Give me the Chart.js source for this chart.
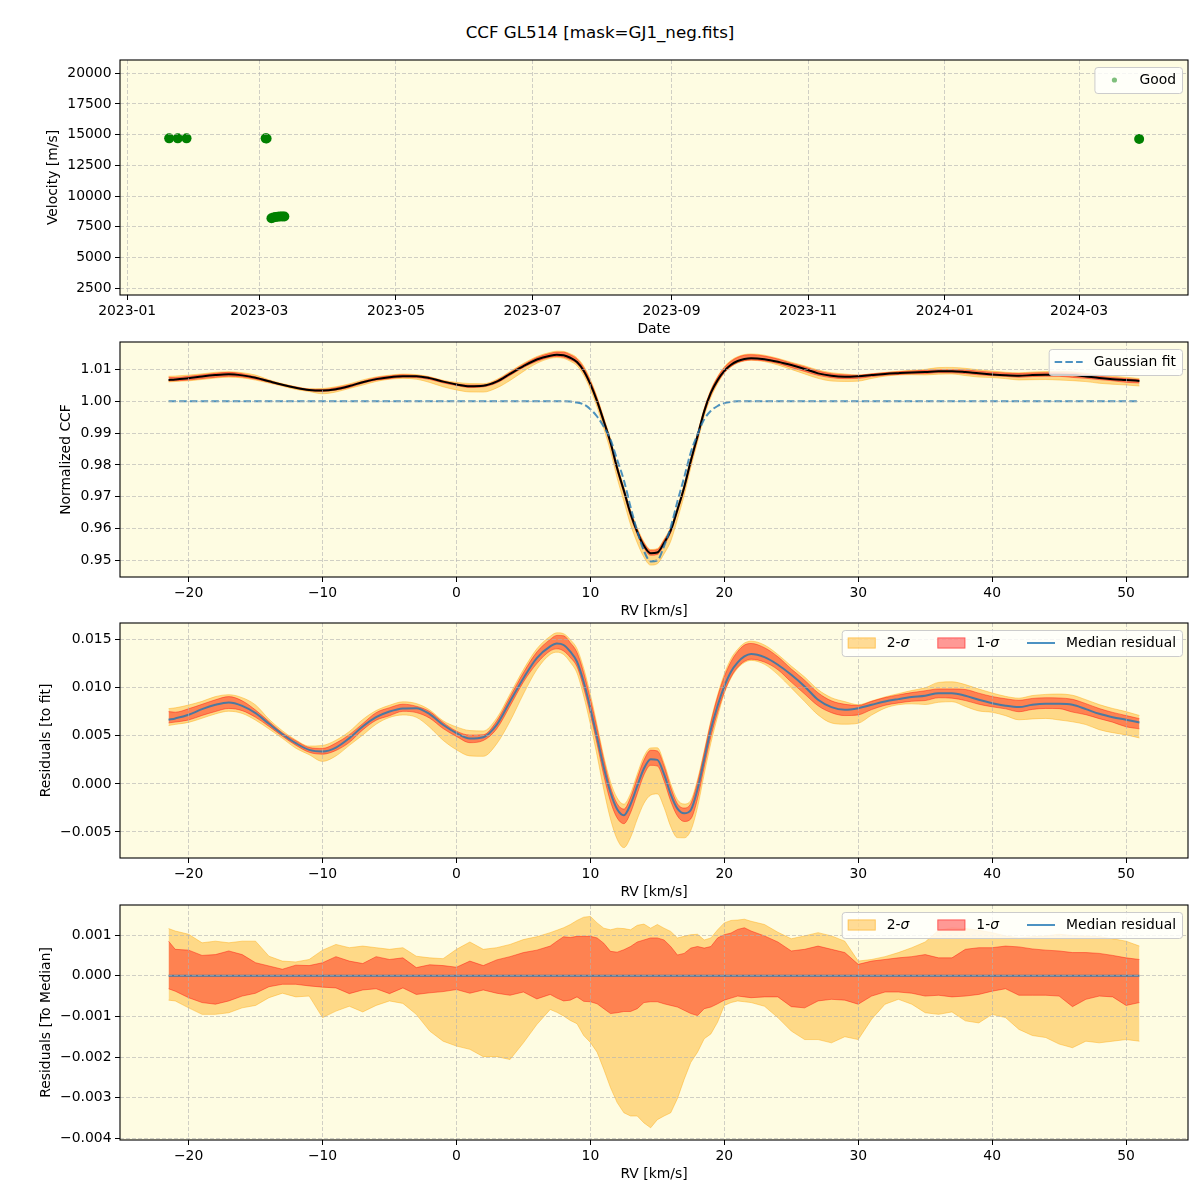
<!DOCTYPE html>
<html>
<head>
<meta charset="utf-8">
<script src="https://cdn.jsdelivr.net/npm/chart.js@4.4.1/dist/chart.umd.min.js"></script>
<style>
  body { margin: 0; background: #fff; }
  #wrap { position: relative; width: 1200px; height: 1200px; background: #fff; }
  #title { position: absolute; left: 0; top: 22px; width: 1200px; line-height: 20px; text-align: center;
           font-family: 'DejaVu Sans', sans-serif; font-size: 16.7px; color: #000; }
  canvas { position: absolute; left: 0; }
</style>
</head>
<body>
<div id="wrap">
  <div id="title">CCF GL514 [mask=GJ1_neg.fits]</div>
  <canvas id="velChart" width="1200" height="300" style="top:40px"></canvas>
  <canvas id="ccfChart" width="1200" height="300" style="top:322px"></canvas>
  <canvas id="residChart" width="1200" height="300" style="top:603px"></canvas>
  <canvas id="medChart" width="1200" height="300" style="top:885px"></canvas>
</div>
<script>
// ---- Panel 1: velocities per observation ----
const obsDates = [
  '2023-01-19T18:00:00Z', '2023-01-23T14:00:00Z', '2023-01-27T12:00:00Z',
  '2023-03-03T20:00:00Z', '2023-03-04T06:00:00Z',
  '2023-03-06T10:00:00Z', '2023-03-07T08:00:00Z', '2023-03-08T06:00:00Z', '2023-03-09T06:00:00Z',
  '2023-03-10T06:00:00Z', '2023-03-11T06:00:00Z', '2023-03-12T04:00:00Z',
  '2024-03-27T19:00:00Z'
];
const obsVelocity = [14700, 14700, 14700, 14700, 14690, 8200, 8260, 8300, 8330, 8350, 8350, 8340, 14650];
const dateTicks = ['2023-01-01', '2023-03-01', '2023-05-01', '2023-07-01', '2023-09-01', '2023-11-01', '2024-01-01', '2024-03-01'];
const velTicks = [2500, 5000, 7500, 10000, 12500, 15000, 17500, 20000];

// ---- Panels 2-4: CCF profile on the RV grid (km/s) ----
const rv = [-21.5, -21, -20, -19, -18, -17, -16, -15, -14, -13, -12, -11, -10, -9, -8, -7, -6, -5, -4, -3,
  -2, -1, 0, 1, 2, 3, 4, 5, 6, 7, 7.5, 8, 8.5, 9, 9.5, 10, 10.5, 11, 11.5, 12, 12.5, 13, 13.5, 14, 14.5,
  15, 15.5, 16, 16.5, 17, 17.5, 18, 18.5, 19, 19.5, 20, 20.5, 21, 21.5, 22, 23, 24, 25, 26, 27, 28, 29, 30,
  31, 32, 33, 34, 35, 36, 37, 38, 39, 40, 41, 42, 43, 44, 45, 46, 47, 48, 49, 50, 51];

const gaussFit = [1, 1, 1, 1, 1, 1, 1, 1, 1, 1, 1, 1, 1, 1, 1, 1, 1, 1, 1, 1,
  1, 1, 1, 1, 1, 1, 1, 1, 1, 1, 1, 1, 0.9999, 0.9996, 0.9990, 0.9975, 0.9952, 0.9920, 0.9880, 0.9816, 0.9752, 0.9668, 0.9592, 0.9530, 0.9497,
  0.9500, 0.9545, 0.9605, 0.9685, 0.9760, 0.9840, 0.9896, 0.9943, 0.9970, 0.9985, 0.9994, 0.9998, 1, 1, 1, 1, 1, 1, 1, 1, 1, 1, 1,
  1, 1, 1, 1, 1, 1, 1, 1, 1, 1, 1, 1, 1, 1, 1, 1, 1, 1, 1, 1, 1];

// median residual to the fit, in units of 1e-3
const medianResidE3 = [6.67, 6.81, 7.19, 7.78, 8.23, 8.47, 8.12, 7.36, 6.25, 5.17, 4.24, 3.54, 3.37, 3.78, 4.76, 5.97, 6.94, 7.53, 7.85, 7.88,
  7.26, 6.15, 5.28, 4.72, 4.86, 6.15, 8.58, 11.0, 13.09, 14.3, 14.6, 14.45, 13.75, 12.71, 10.6, 7.85, 4.83, 1.70, -0.90, -2.64, -3.26, -2.12, -0.21, 1.60, 2.57,
  2.50, 1.01, -1.08, -2.57, -3.06, -2.71, -0.56, 2.57, 5.69, 8.13, 10.14, 11.67, 12.64, 13.26, 13.51, 13.19, 12.40, 11.35, 10.14, 8.75, 7.99, 7.71, 7.88,
  8.23, 8.58, 8.82, 9.03, 9.17, 9.44, 9.44, 9.17, 8.75, 8.40, 8.13, 7.99, 8.23, 8.33, 8.33, 8.23, 7.78, 7.29, 6.94, 6.67, 6.39];

// band edges relative to the median, in units of 1e-3
const sig2Hi = [1.16, 1.10, 1.02, 0.81, 0.85, 0.81, 0.85, 0.85, 0.48, 0.36, 0.34, 0.40, 0.63, 0.77, 0.69, 0.73, 0.69, 0.65, 0.69, 0.48,
  0.44, 0.42, 0.65, 0.83, 0.65, 0.69, 0.77, 0.89, 0.96, 1.06, 1.12, 1.18, 1.26, 1.36, 1.44, 1.46, 1.30, 1.17, 1.13, 1.17, 1.16, 1.13, 1.24, 1.27, 1.17,
  1.26, 1.17, 1.09, 0.93, 0.97, 1.01, 1.02, 0.88, 0.93, 1.13, 1.30, 1.36, 1.37, 1.39, 1.34, 1.26, 1.07, 0.91, 0.98, 1.06, 0.98, 0.85, 0.36,
  0.40, 0.47, 0.57, 0.69, 0.83, 1.12, 1.18, 1.16, 1.12, 1.06, 0.98, 0.93, 0.96, 0.98, 1.02, 0.99, 0.98, 0.96, 0.91, 0.85, 0.73];
const sig1Hi = [0.85, 0.65, 0.63, 0.50, 0.52, 0.61, 0.52, 0.32, 0.24, 0.16, 0.26, 0.25, 0.32, 0.47, 0.36, 0.30, 0.47, 0.40, 0.44, 0.20,
  0.27, 0.25, 0.21, 0.36, 0.25, 0.39, 0.47, 0.57, 0.63, 0.73, 0.85, 0.96, 0.94, 0.97, 0.97, 0.97, 0.93, 0.80, 0.60, 0.58, 0.64, 0.72, 0.83, 0.88, 0.93,
  0.93, 0.88, 0.72, 0.51, 0.55, 0.68, 0.72, 0.68, 0.72, 0.93, 1.01, 1.05, 1.14, 1.18, 1.10, 0.98, 0.83, 0.61, 0.65, 0.73, 0.65, 0.57, 0.28,
  0.36, 0.40, 0.44, 0.47, 0.52, 0.44, 0.44, 0.65, 0.69, 0.69, 0.73, 0.71, 0.66, 0.63, 0.61, 0.57, 0.57, 0.55, 0.50, 0.44, 0.40];
const sig1Lo = [-0.32, -0.38, -0.54, -0.66, -0.70, -0.62, -0.50, -0.43, -0.27, -0.21, -0.21, -0.25, -0.28, -0.30, -0.44, -0.35, -0.32, -0.44, -0.30, -0.46,
  -0.42, -0.39, -0.34, -0.43, -0.35, -0.43, -0.48, -0.40, -0.57, -0.46, -0.55, -0.62, -0.60, -0.52, -0.63, -0.64, -0.69, -0.81, -0.93, -0.91, -0.88, -0.88, -0.81, -0.66, -0.64,
  -0.64, -0.69, -0.73, -0.77, -0.85, -0.93, -0.98, -0.81, -0.77, -0.69, -0.60, -0.55, -0.50, -0.52, -0.54, -0.52, -0.52, -0.76, -0.79, -0.62, -0.58, -0.60, -0.70,
  -0.50, -0.40, -0.40, -0.43, -0.50, -0.48, -0.52, -0.50, -0.46, -0.38, -0.32, -0.48, -0.48, -0.48, -0.50, -0.76, -0.58, -0.50, -0.52, -0.73, -0.66];
const sig2Lo = [-0.60, -0.62, -0.79, -0.95, -0.95, -0.91, -0.79, -0.73, -0.54, -0.43, -0.52, -0.50, -1.03, -0.87, -0.75, -0.89, -0.73, -0.62, -0.68, -0.95,
  -1.36, -1.61, -1.73, -1.81, -1.99, -1.99, -2.06, -1.65, -1.20, -0.83, -0.90, -0.99, -1.10, -1.18, -1.47, -1.64, -1.88, -2.30, -2.75, -3.12, -3.37, -3.45, -3.45, -3.62, -3.74,
  -3.54, -3.45, -3.37, -3.02, -2.55, -2.13, -1.88, -1.55, -1.43, -1.14, -0.73, -0.66, -0.62, -0.64, -0.66, -0.75, -1.03, -1.36, -1.57, -1.57, -1.65, -1.50, -1.57,
  -1.07, -0.70, -0.58, -0.70, -0.91, -0.95, -0.89, -1.11, -1.16, -0.95, -1.03, -1.32, -1.47, -1.52, -1.68, -1.77, -1.61, -1.65, -1.61, -1.57, -1.61];

const rvTicks = [-20, -10, 0, 10, 20, 30, 40, 50];
const ccfTicks = [0.95, 0.96, 0.97, 0.98, 0.99, 1.00, 1.01];
const residTicks = [-0.005, 0, 0.005, 0.010, 0.015];
const medTicks = [-0.004, -0.003, -0.002, -0.001, 0, 0.001];

// ---- styling ----
const FONT = "'DejaVu Sans', sans-serif";
const BG = '#fefce2';
const C2 = 'rgba(255,165,0,0.4)';
const C1 = 'rgba(255,0,0,0.4)';
const BLUE = 'rgba(31,119,180,0.8)';

Chart.defaults.font.family = FONT;
Chart.defaults.font.size = 13.9;
Chart.defaults.color = '#000';
Chart.defaults.animation = false;

const minus = s => s.replace('-', '\u2212');

function drawLegend(chart, items) {
    const ctx = chart.ctx, a = chart.chartArea;
    const handleLen = 28, textPad = 11, colSpace = 28, pad = 6, h = 26;
    const fontFor = it => (it ? 'italic ' : '') + '13.9px ' + FONT;
    const widths = items.map(item => item.parts.reduce((s, p) => {
        ctx.font = fontFor(p[1]);
        return s + ctx.measureText(p[0]).width;
    }, 0));
    const w = pad * 2 + widths.reduce((s, tw) => s + handleLen + textPad + tw, 0) + colSpace * (items.length - 1);
    const x0 = a.right - 6 - w, y0 = a.top + 7, cy = y0 + h / 2;

    ctx.save();
    ctx.beginPath();
    ctx.roundRect(x0 + 0.5, y0 + 0.5, w, h, 3);
    ctx.fillStyle = 'rgba(255,255,255,0.8)';
    ctx.fill();
    ctx.strokeStyle = '#cccccc';
    ctx.lineWidth = 1;
    ctx.stroke();

    let x = x0 + pad;
    items.forEach((item, i) => {
        if (item.kind === 'dot') {
            ctx.beginPath();
            ctx.arc(x + handleLen / 2, cy, 2.6, 0, Math.PI * 2);
            ctx.fillStyle = item.color;
            ctx.fill();
        } else if (item.kind === 'patch') {
            ctx.fillStyle = item.color;
            ctx.fillRect(x, cy - 5.5, handleLen, 11);
            ctx.strokeStyle = item.color;
            ctx.strokeRect(x + 0.5, cy - 5, handleLen - 1, 10);
        } else {
            ctx.beginPath();
            ctx.setLineDash(item.kind === 'dash' ? [7.5, 3.2] : []);
            ctx.moveTo(x, cy);
            ctx.lineTo(x + handleLen, cy);
            ctx.strokeStyle = item.color;
            ctx.lineWidth = 2;
            ctx.stroke();
            ctx.setLineDash([]);
        }
        let tx = x + handleLen + textPad;
        ctx.fillStyle = '#000';
        ctx.textBaseline = 'middle';
        item.parts.forEach(p => {
            ctx.font = fontFor(p[1]);
            ctx.fillText(p[0], tx, cy);
            tx += ctx.measureText(p[0]).width;
        });
        x += handleLen + textPad + widths[i] + colSpace;
    });
    ctx.restore();
}

function panelPlugin(items) {
    return {
        id: 'panelFrame',
        beforeDraw(chart) {
            const {ctx, chartArea: a} = chart;
            ctx.save();
            ctx.fillStyle = BG;
            ctx.fillRect(a.left, a.top, a.width, a.height);
            ctx.restore();
        },
        afterDraw(chart) {
            const {ctx, chartArea: a} = chart;
            ctx.save();
            ctx.strokeStyle = '#000';
            ctx.lineWidth = 1.1;
            ctx.strokeRect(a.left, a.top, a.width, a.height);
            ctx.restore();
            drawLegend(chart, items);
        }
    };
}

function axis(opts) {
    const common = {
        type: 'linear',
        min: opts.min,
        max: opts.max,
        afterBuildTicks: sc => { sc.ticks = opts.ticks.map(v => ({value: v})); },
        ticks: {callback: opts.fmt, padding: 3.5, maxRotation: 0, autoSkip: false, font: {size: 13.9}},
        grid: {color: 'rgba(176,176,176,0.6)', lineWidth: 1, z: 1, tickColor: '#000', tickLength: 5,
               tickWidth: 1, tickBorderDash: []},
        border: {display: false, dash: [4, 2]},
        title: {display: true, text: opts.title, font: {size: 13.9},
                padding: opts.vertical ? {top: opts.titlePad, bottom: 0} : {top: 0, bottom: 2}}
    };
    if (opts.vertical) {
        common.afterFit = sc => { sc.width = 120; };
    } else {
        common.afterFit = sc => { sc.height = 45; };
    }
    return common;
}

function makeChart(id, type, datasets, xOpts, yOpts, legendItems) {
    return new Chart(document.getElementById(id), {
        type: type,
        data: {datasets: datasets},
        options: {
            responsive: false,
            devicePixelRatio: 1,
            layout: {padding: {top: 20, right: 12, left: 0, bottom: 0}},
            plugins: {legend: {display: false}, tooltip: {enabled: false}},
            elements: {point: {radius: 0}},
            scales: {x: axis(xOpts), y: axis(Object.assign({vertical: true}, yOpts))}
        },
        plugins: [panelPlugin(legendItems)]
    });
}

// ---- derived series ----
const DAY0 = Date.UTC(2023, 0, 1);
const toDay = s => (Date.parse(s) - DAY0) / 86400000;
const ccfMedian = rv.map((x, i) => gaussFit[i] + medianResidE3[i] * 1e-3);
const residMedian = medianResidE3.map(v => v * 1e-3);
const zeroLine = rv.map(() => 0);

function bandSets(center, smooth) {
    const pts = off => rv.map((x, i) => ({x: x, y: center[i] + off[i] * 1e-3}));
    const base = {borderWidth: 1, pointRadius: 0};
    if (smooth) base.cubicInterpolationMode = 'monotone';
    return [
        Object.assign({data: pts(sig2Lo), borderColor: C2, backgroundColor: C2, fill: false, order: 5}, base),
        Object.assign({data: pts(sig2Hi), borderColor: C2, backgroundColor: C2, fill: '-1', order: 4}, base),
        Object.assign({data: pts(sig1Lo), borderColor: C1, backgroundColor: C1, fill: false, order: 3}, base),
        Object.assign({data: pts(sig1Hi), borderColor: C1, backgroundColor: C1, fill: '-1', order: 2}, base)
    ];
}

const sigmaLegend = [
    {kind: 'patch', color: C2, parts: [['2-'], ['\u03c3', true]]},
    {kind: 'patch', color: C1, parts: [['1-'], ['\u03c3', true]]},
    {kind: 'line', color: BLUE, parts: [['Median residual']]}
];
const rvFmt = v => minus(String(v));

// Panel 1
makeChart('velChart', 'scatter',
    [{data: obsDates.map((d, i) => ({x: toDay(d), y: obsVelocity[i]})),
      backgroundColor: 'green', borderWidth: 0, pointRadius: 5}],
    {min: -3.2, max: 473.6, ticks: dateTicks.map(toDay),
     fmt: (v, i) => dateTicks[i].slice(0, 7), title: 'Date'},
    {min: 1950, max: 21080, ticks: velTicks, fmt: v => String(v), title: 'Velocity [m/s]', titlePad: 44.6},
    [{kind: 'dot', color: 'rgba(0,128,0,0.5)', parts: [['Good']]}]);

// Panel 2
makeChart('ccfChart', 'line',
    bandSets(ccfMedian, true).concat([
        {data: rv.map((x, i) => ({x: x, y: ccfMedian[i]})), borderColor: '#000', borderWidth: 2,
         cubicInterpolationMode: 'monotone', fill: false, order: 1},
        {data: rv.map((x, i) => ({x: x, y: gaussFit[i]})), borderColor: BLUE, borderWidth: 2,
         borderDash: [7.5, 3.2], cubicInterpolationMode: 'monotone', fill: false, order: 0}
    ]),
    {min: -25.125, max: 54.625, ticks: rvTicks, fmt: rvFmt, title: 'RV [km/s]'},
    {min: 0.9448, max: 1.0186, ticks: ccfTicks, fmt: v => minus(v.toFixed(2)), title: 'Normalized CCF', titlePad: 57.6},
    [{kind: 'dash', color: BLUE, parts: [['Gaussian fit']]}]);

// Panel 3
makeChart('residChart', 'line',
    bandSets(residMedian, true).concat([
        {data: rv.map((x, i) => ({x: x, y: residMedian[i]})), borderColor: BLUE, borderWidth: 2,
         cubicInterpolationMode: 'monotone', fill: false, order: 1}
    ]),
    {min: -25.125, max: 54.625, ticks: rvTicks, fmt: rvFmt, title: 'RV [km/s]'},
    {min: -0.00771, max: 0.01674, ticks: residTicks, fmt: v => minus(v.toFixed(3)), title: 'Residuals [to fit]', titlePad: 37.6},
    sigmaLegend);

// Panel 4
makeChart('medChart', 'line',
    bandSets(zeroLine, false).concat([
        {data: rv.map((x, i) => ({x: x, y: zeroLine[i]})), borderColor: BLUE, borderWidth: 2, fill: false, order: 1}
    ]),
    {min: -25.125, max: 54.625, ticks: rvTicks, fmt: rvFmt, title: 'RV [km/s]'},
    {min: -0.00404, max: 0.00174, ticks: medTicks, fmt: v => minus(v.toFixed(3)), title: 'Residuals [To Median]', titlePad: 37.6},
    sigmaLegend);
</script>
</body>
</html>
